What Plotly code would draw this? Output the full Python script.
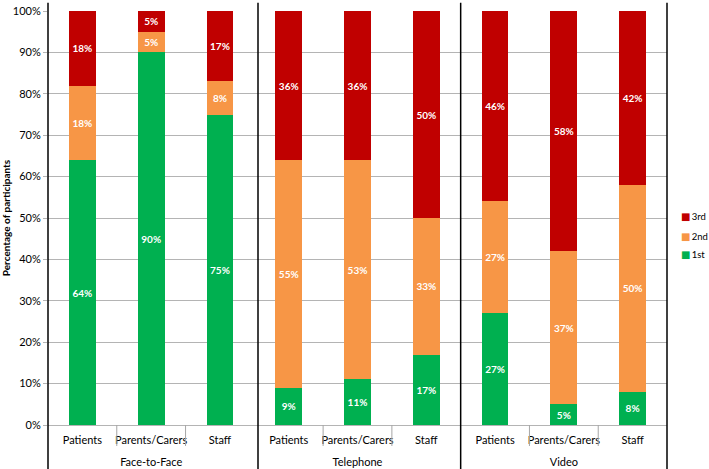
import plotly.graph_objects as go

modes = ["Face-to-Face"] * 3 + ["Telephone"] * 3 + ["Video"] * 3
groups = ["Patients", "Parents/Carers", "Staff"] * 3
first = [64, 90, 75, 9, 11, 17, 27, 5, 8]
second = [18, 5, 8, 55, 53, 33, 27, 37, 50]
third = [18, 5, 17, 36, 36, 50, 46, 58, 42]
y_ticks = [0, 10, 20, 30, 40, 50, 60, 70, 80, 90, 100]
y_tick_labels = [f"{v}%" for v in y_ticks]
series_names = ["1st", "2nd", "3rd"]

colors = {"1st": "#00B050", "2nd": "#F79646", "3rd": "#C00000"}
FONT = "Lato, Carlito, Calibri, sans-serif"

# group labels are pushed one line lower, as in the reference
mode_labels = ["<br>" + m for m in modes]

fig = go.Figure()
for name, vals in zip(series_names, [first, second, third]):
    fig.add_trace(go.Bar(
        x=[mode_labels, groups], y=vals, name=name,
        marker=dict(color=colors[name], line=dict(width=0)),
        width=0.39,
        text=[f"{v}%" for v in vals],
        textposition="inside", insidetextanchor="middle",
        textangle=0,
        textfont=dict(color="white", size=10, family=FONT),
        texttemplate="<b>%{text}</b>",
        hoverinfo="skip",
        showlegend=False,
    ))

shapes = []
# black vertical separators (axis, group boundaries, right edge)
for xf in [0, (258 - 48) / 619, 6 / 9, 1]:
    shapes.append(dict(type="line", xref="paper", yref="paper",
                       x0=xf, x1=xf, y0=-0.11, y1=1.02,
                       line=dict(color="black", width=1.5)))
# small gray separators between categories in label row
for k in [1, 2, 4, 5, 7, 8]:
    xf = k / 9
    shapes.append(dict(type="line", xref="paper", yref="paper",
                       x0=xf, x1=xf, y0=0, y1=-21 / 414,
                       line=dict(color="#A6A6A6", width=1)))

# legend (top to bottom: 3rd, 2nd, 1st)
annotations = []
legend_y = {"3rd": (425 - 216) / 414, "2nd": (425 - 236) / 414, "1st": (425 - 255) / 414}
for name in reversed(series_names):
    annotations.append(dict(
        xref="paper", yref="paper", x=(680 - 48) / 619, y=legend_y[name],
        xanchor="left", yanchor="middle", showarrow=False, borderpad=0,
        text=f"<span style='color:{colors[name]};font-family:DejaVu Sans;font-size:10px'>■</span>\u2009{name}",
        font=dict(size=9.5, family=FONT, color="black"),
    ))

fig.update_layout(
    barmode="stack",
    width=709, height=469,
    margin=dict(l=48, r=42, t=11, b=44, autoexpand=False),
    paper_bgcolor="white", plot_bgcolor="white",
    font=dict(family=FONT, size=11, color="black"),
    showlegend=False,
    shapes=shapes,
    annotations=annotations,
)
fig.update_xaxes(
    type="multicategory", showgrid=False, showline=False,
    ticks="", tickangle=0, ticklabelstandoff=7,
    showdividers=False, tickfont=dict(size=11, family=FONT),
    automargin=False,
)
fig.update_yaxes(
    range=[0, 100], tickvals=y_ticks, ticktext=y_tick_labels,
    showgrid=True, gridcolor="#B4B4B4", gridwidth=1,
    zeroline=True, zerolinecolor="#B4B4B4", zerolinewidth=1,
    ticks="outside", ticklen=4, tickcolor="#B4B4B4",
    showline=False, tickfont=dict(size=11, family=FONT),
    title=dict(text="<b>Percentage of participants</b>", font=dict(size=10, family=FONT), standoff=4),
    automargin=False,
)

fig.write_html("out.html", config={"displayModeBar": False},
               post_script="document.body.style.margin='0';")
